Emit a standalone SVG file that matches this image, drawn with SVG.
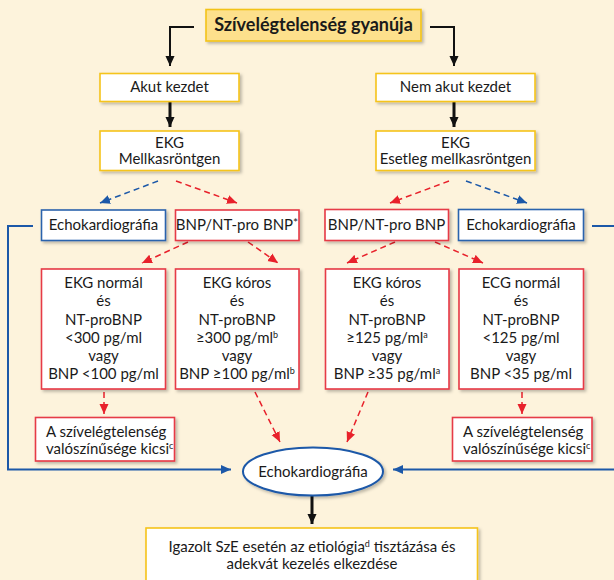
<svg xmlns="http://www.w3.org/2000/svg" width="614" height="580" viewBox="0 0 614 580">
<style>
text{font-family:Lato,"Liberation Sans",sans-serif;font-size:15px;fill:#1a1a1a;text-anchor:middle}
.l{text-anchor:start}
.title{font-weight:bold;font-size:18px}
.y{fill:#ffffff;stroke:#f5c41a;stroke-width:1.6}
.r{fill:#ffffff;stroke:#e63a46;stroke-width:1.6}
.b{fill:#ffffff;stroke:#2a63ad;stroke-width:1.6}
.k{fill:none;stroke:#111;stroke-width:2}
.kt{fill:none;stroke:#111;stroke-width:3}
.rd{fill:none;stroke:#e8212b;stroke-width:1.5;stroke-dasharray:6 4}
.bd{fill:none;stroke:#1c58a8;stroke-width:1.5;stroke-dasharray:6 4}
.bl{fill:none;stroke:#1c58a8;stroke-width:2}
.sup{font-size:9px}
.ast{font-size:12px}
</style>
<defs>
<filter id="sh" x="-10%" y="-10%" width="130%" height="140%">
<feDropShadow dx="2" dy="2" stdDeviation="1.5" flood-color="#000" flood-opacity="0.25"/>
</filter>
<marker id="ak" markerUnits="userSpaceOnUse" markerWidth="10" markerHeight="12" refX="11" refY="5" orient="auto" viewBox="0 0 11 10"><path d="M0,0 L11,5 L0,10 z" fill="#111"/></marker>
<marker id="ar" markerUnits="userSpaceOnUse" markerWidth="10" markerHeight="10" refX="10" refY="4.5" orient="auto" viewBox="0 0 10 9"><path d="M0,0 L10,4.5 L0,9 z" fill="#e8212b"/></marker>
<marker id="ab" markerUnits="userSpaceOnUse" markerWidth="10" markerHeight="10" refX="10" refY="4.5" orient="auto" viewBox="0 0 10 9"><path d="M0,0 L10,4.5 L0,9 z" fill="#1c58a8"/></marker>
</defs>
<rect x="0" y="0" width="614" height="580" fill="#fdf3dc"/>

<g id="connectors">
<polyline class="k" points="194,27 170,27 170,66" marker-end="url(#ak)"/>
<polyline class="k" points="430,27 454,27 454,66" marker-end="url(#ak)"/>
<line class="kt" x1="170" y1="102" x2="170" y2="127" marker-end="url(#ak)"/>
<line class="kt" x1="454" y1="102" x2="454" y2="127" marker-end="url(#ak)"/>
<line class="bd" x1="158" y1="181" x2="100" y2="203" marker-end="url(#ab)"/>
<line class="rd" x1="176" y1="181" x2="237" y2="203" marker-end="url(#ar)"/>
<line class="rd" x1="449" y1="181" x2="390" y2="203" marker-end="url(#ar)"/>
<line class="bd" x1="466" y1="181" x2="527" y2="203" marker-end="url(#ab)"/>
<line class="rd" x1="188" y1="242" x2="142" y2="263" marker-end="url(#ar)"/>
<line class="rd" x1="248" y1="242" x2="278" y2="263" marker-end="url(#ar)"/>
<line class="rd" x1="395" y1="242" x2="347" y2="263" marker-end="url(#ar)"/>
<line class="rd" x1="435" y1="242" x2="483" y2="263" marker-end="url(#ar)"/>
<line class="rd" x1="104" y1="392" x2="104" y2="414" marker-end="url(#ar)"/>
<line class="rd" x1="522" y1="392" x2="522" y2="414" marker-end="url(#ar)"/>
<line class="rd" x1="255" y1="392" x2="280" y2="442" marker-end="url(#ar)"/>
<line class="rd" x1="368" y1="392" x2="347" y2="442" marker-end="url(#ar)"/>
<polyline class="bl" points="33,226 8,226 8,469.5 231,469.5" marker-end="url(#ab)"/>
<polyline class="bl" points="592,226 618,226 618,469.5 393,469.5" marker-end="url(#ab)"/>
<line class="kt" x1="312" y1="496" x2="312" y2="524" marker-end="url(#ak)"/>
</g>

<g id="title">
<rect x="206" y="9.5" width="215" height="31.5" fill="#fde08c" stroke="#f3c316" stroke-width="1.6" filter="url(#sh)"/>
<text class="title" x="313.5" y="31">Szívelégtelenség gyanúja</text>
</g>

<g id="akut">
<rect class="y" x="100" y="73.5" width="139" height="28" filter="url(#sh)"/>
<text x="169.5" y="92">Akut kezdet</text>
</g>
<g id="nemakut">
<rect class="y" x="376" y="73.5" width="159" height="28" filter="url(#sh)"/>
<text x="455.5" y="92">Nem akut kezdet</text>
</g>

<g id="ekg-left">
<rect class="y" x="100" y="131" width="139" height="39.5" filter="url(#sh)"/>
<text x="169.5" y="147.5">EKG</text>
<text x="169.5" y="164">Mellkasröntgen</text>
</g>
<g id="ekg-right">
<rect class="y" x="376" y="131" width="159" height="39.5" filter="url(#sh)"/>
<text x="455.5" y="147.5">EKG</text>
<text x="455.5" y="164">Esetleg mellkasröntgen</text>
</g>

<g id="echo-left">
<rect class="b" x="41.5" y="210" width="124" height="30.5" filter="url(#sh)"/>
<text x="103.5" y="230">Echokardiográfia</text>
</g>
<g id="bnp-left">
<rect class="r" x="175.5" y="210" width="123.5" height="30.5" filter="url(#sh)"/>
<text x="237" y="230">BNP/NT-pro BNP<tspan class="ast" dy="-3">*</tspan></text>
</g>
<g id="bnp-right">
<rect class="r" x="325" y="209.5" width="123.5" height="31" filter="url(#sh)"/>
<text x="386.5" y="230">BNP/NT-pro BNP</text>
</g>
<g id="echo-right">
<rect class="b" x="458.5" y="209.5" width="125" height="31" filter="url(#sh)"/>
<text x="521" y="230">Echokardiográfia</text>
</g>

<g id="ekg-normal-left">
<rect class="r" x="41.5" y="269" width="124" height="120" filter="url(#sh)"/>
<text x="103.5" y="288">EKG normál</text>
<text x="103.5" y="306.3">és</text>
<text x="103.5" y="324.5">NT-proBNP</text>
<text x="103.5" y="342.7">&lt;300 pg/ml</text>
<text x="103.5" y="361">vagy</text>
<text x="103.5" y="379.2">BNP &lt;100 pg/ml</text>
</g>
<g id="ekg-koros-left">
<rect class="r" x="175.5" y="269" width="123.5" height="120" filter="url(#sh)"/>
<text x="237" y="288">EKG kóros</text>
<text x="237" y="306.3">és</text>
<text x="237" y="324.5">NT-proBNP</text>
<text x="237" y="342.7">≥300 pg/ml<tspan class="sup" dy="-5">b</tspan></text>
<text x="237" y="361">vagy</text>
<text x="237" y="379.2">BNP ≥100 pg/ml<tspan class="sup" dy="-5">b</tspan></text>
</g>
<g id="ekg-koros-right">
<rect class="r" x="325.5" y="269" width="123.5" height="120" filter="url(#sh)"/>
<text x="387" y="288">EKG kóros</text>
<text x="387" y="306.3">és</text>
<text x="387" y="324.5">NT-proBNP</text>
<text x="387" y="342.7">≥125 pg/ml<tspan class="sup" dy="-5">a</tspan></text>
<text x="387" y="361">vagy</text>
<text x="387" y="379.2">BNP ≥35 pg/ml<tspan class="sup" dy="-5">a</tspan></text>
</g>
<g id="ecg-normal-right">
<rect class="r" x="459" y="269" width="124.5" height="120" filter="url(#sh)"/>
<text x="521" y="288">ECG normál</text>
<text x="521" y="306.3">és</text>
<text x="521" y="324.5">NT-proBNP</text>
<text x="521" y="342.7">&lt;125 pg/ml</text>
<text x="521" y="361">vagy</text>
<text x="521" y="379.2">BNP &lt;35 pg/ml</text>
</g>

<g id="kicsi-left">
<rect class="r" x="35.5" y="417.5" width="139" height="43.5" filter="url(#sh)"/>
<text class="l" x="46" y="436.5">A szívelégtelenség</text>
<text class="l" x="46" y="453.5">valószínűsége kicsi<tspan class="sup" dy="-5">c</tspan></text>
</g>
<g id="kicsi-right">
<rect class="r" x="452.5" y="417.5" width="139.5" height="43.5" filter="url(#sh)"/>
<text class="l" x="463" y="436.5">A szívelégtelenség</text>
<text class="l" x="463" y="453.5">valószínűsége kicsi<tspan class="sup" dy="-5">c</tspan></text>
</g>

<g id="echo-center">
<ellipse cx="313" cy="471.5" rx="70" ry="24" fill="#fff" stroke="#1c58a8" stroke-width="2" filter="url(#sh)"/>
<text x="313" y="476.5">Echokardiográfia</text>
</g>

<g id="final">
<rect class="y" x="146" y="528" width="331.5" height="62" filter="url(#sh)"/>
<text x="312" y="552">Igazolt SzE esetén az etiológia<tspan class="sup" dy="-5">d</tspan><tspan dy="5"> tisztázása és</tspan></text>
<text x="312" y="569">adekvát kezelés elkezdése</text>
</g>
</svg>
